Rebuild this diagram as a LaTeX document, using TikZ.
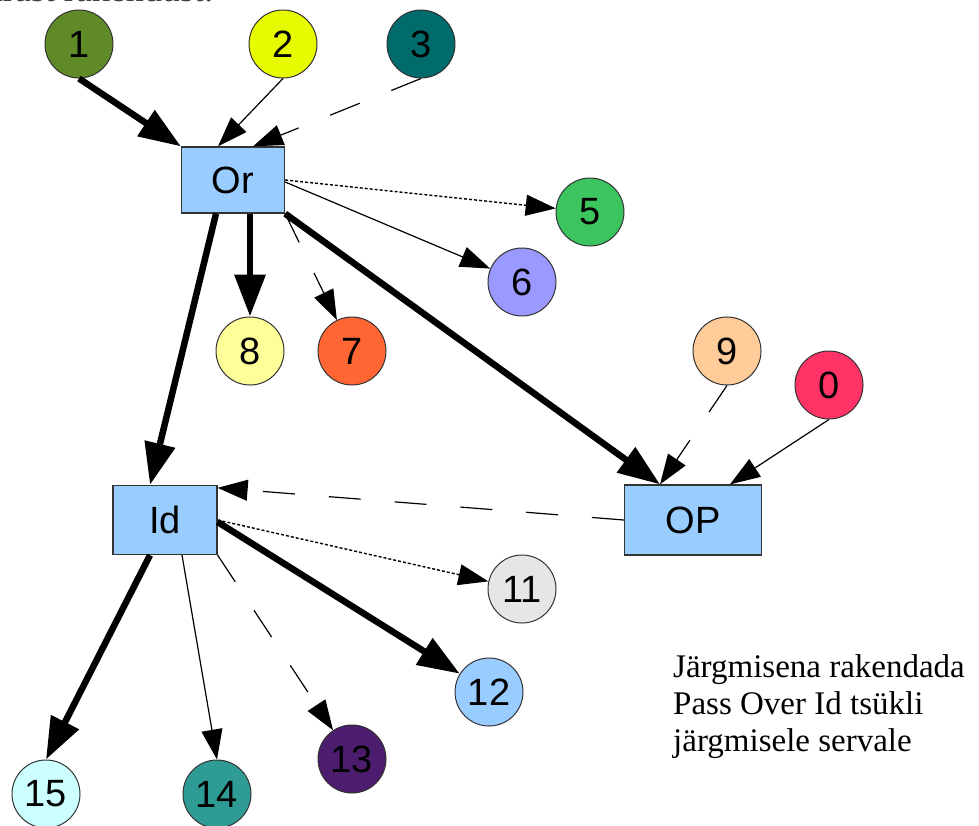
\documentclass[tikz,border=0pt]{standalone}
\usepackage{fontspec}
\setmainfont{Liberation Serif}
\newfontfamily\lsans{Liberation Sans}
\usetikzlibrary{arrows.meta}

\definecolor{cOne}{HTML}{608A28}
\definecolor{cTwo}{HTML}{E6FA00}
\definecolor{cThree}{HTML}{006B6B}
\definecolor{cFive}{HTML}{3CC55E}
\definecolor{cSix}{HTML}{9999FF}
\definecolor{cSeven}{HTML}{FF6633}
\definecolor{cEight}{HTML}{FFFF99}
\definecolor{cNine}{HTML}{FFCC99}
\definecolor{cZero}{HTML}{FF3366}
\definecolor{cEleven}{HTML}{E6E6E6}
\definecolor{cTwelve}{HTML}{99CCFF}
\definecolor{cThirteen}{HTML}{4C1D6E}
\definecolor{cFourteen}{HTML}{2F9B95}
\definecolor{cFifteen}{HTML}{CCFFFF}
\definecolor{boxblue}{HTML}{99CCFF}
\definecolor{rim}{HTML}{333333}

\begin{document}
\begin{tikzpicture}[x=1pt,y=-1pt,
  ball/.style={circle, draw=rim, line width=1pt, minimum size=68pt, inner sep=0pt,
               font=\lsans\fontsize{38}{42}\selectfont},
  opbox/.style={rectangle, draw=rim, line width=1.3pt, fill=boxblue, inner sep=0pt,
                font=\lsans\fontsize{38}{42}\selectfont},
  heavy/.style={line width=6.5pt, -{Triangle[length=42pt,width=30pt]}},
  thinarrow/.style={line width=1.2pt, -{Triangle[length=30pt,width=21pt]}},
  dasharrow/.style={thinarrow, dash pattern=on 32pt off 34pt},
  dotarrow/.style={line width=1.4pt, dash pattern=on 3pt off 2pt,
                   -{Triangle[length=30pt,width=21pt]}}
]
\useasboundingbox (0,0) rectangle (979,825);
\clip (0,0) rectangle (979,825);
\fill[white] (0,0) rectangle (979,825);

% heading, mostly above the page edge
\node[anchor=base east, inner sep=0pt, text=black!75, font=\fontsize{36}{40}\selectfont] (head) at (214,1) {Pärast rakendust:};

% boxes
\node[opbox, minimum width=103pt, minimum height=66pt] (Or) at (233,180) {Or};
\node[opbox, minimum width=104pt, minimum height=69pt] (Id) at (165,520) {Id};
\node[opbox, minimum width=137pt, minimum height=70pt] (OP) at (693,520) {OP};

% numbered balls
\node[ball, fill=cOne] (n1) at (79,44) {1};
\node[ball, fill=cTwo] (n2) at (283,44) {2};
\node[ball, fill=cThree] (n3) at (421,44) {3};
\node[ball, fill=cFive] (n5) at (590,212) {5};
\node[ball, fill=cSix] (n6) at (522,282) {6};
\node[ball, fill=cEight] (n8) at (250,351) {8};
\node[ball, fill=cSeven] (n7) at (352,351) {7};
\node[ball, fill=cNine] (n9) at (727,351) {9};
\node[ball, fill=cZero] (n0) at (829,385) {0};
\node[ball, fill=cEleven] (n11) at (522,589) {11};
\node[ball, fill=cTwelve] (n12) at (489,692) {12};
\node[ball, fill=cThirteen] (n13) at (352,759) {13};
\node[ball, fill=cFourteen] (n14) at (217,794) {14};
\node[ball, fill=cFifteen] (n15) at (46,794) {15};

% edges into Or
\draw[heavy] (n1.south) -- (Or.north west);
\draw[thinarrow] (n2.south) -- ([xshift=-15pt]Or.north);
\draw[dasharrow] (n3.south) -- ([xshift=20pt]Or.north);

% edges out of Or
\draw[dotarrow] (Or.east) -- (n5);
\draw[thinarrow] ([yshift=-2pt]Or.east) -- (n6);
\draw[dasharrow] (Or.south east) -- (n7);
\draw[heavy] ([xshift=17pt]Or.south) -- (n8.north);
\draw[heavy] ([xshift=-17pt]Or.south) -- ([xshift=-15pt]Id.north);
\draw[heavy] (Or.south east) -- ([xshift=-33pt]OP.north);

% edges into OP
\draw[dasharrow] (n9.south) -- ([xshift=-33pt]OP.north);
\draw[thinarrow] (n0.south) -- ([xshift=37pt]OP.north);

% OP back to Id
\draw[dasharrow] (OP.west) -- ([yshift=-3pt]Id.north east);

% edges out of Id
\draw[dotarrow] (Id.east) -- (n11);
\draw[heavy] ([yshift=-2pt]Id.east) -- (n12);
\draw[dasharrow] (Id.south east) -- (n13);
\draw[thinarrow] ([xshift=17pt]Id.south) -- (n14.north);
\draw[heavy] ([xshift=-15pt]Id.south) -- (n15.north);

% note
\node[anchor=north west, align=left, inner sep=0pt, font=\fontsize{33}{37}\selectfont] (note) at (673,654)
  {Järgmisena rakendada\\Pass Over Id tsükli\\järgmisele servale};
\end{tikzpicture}
\end{document}
